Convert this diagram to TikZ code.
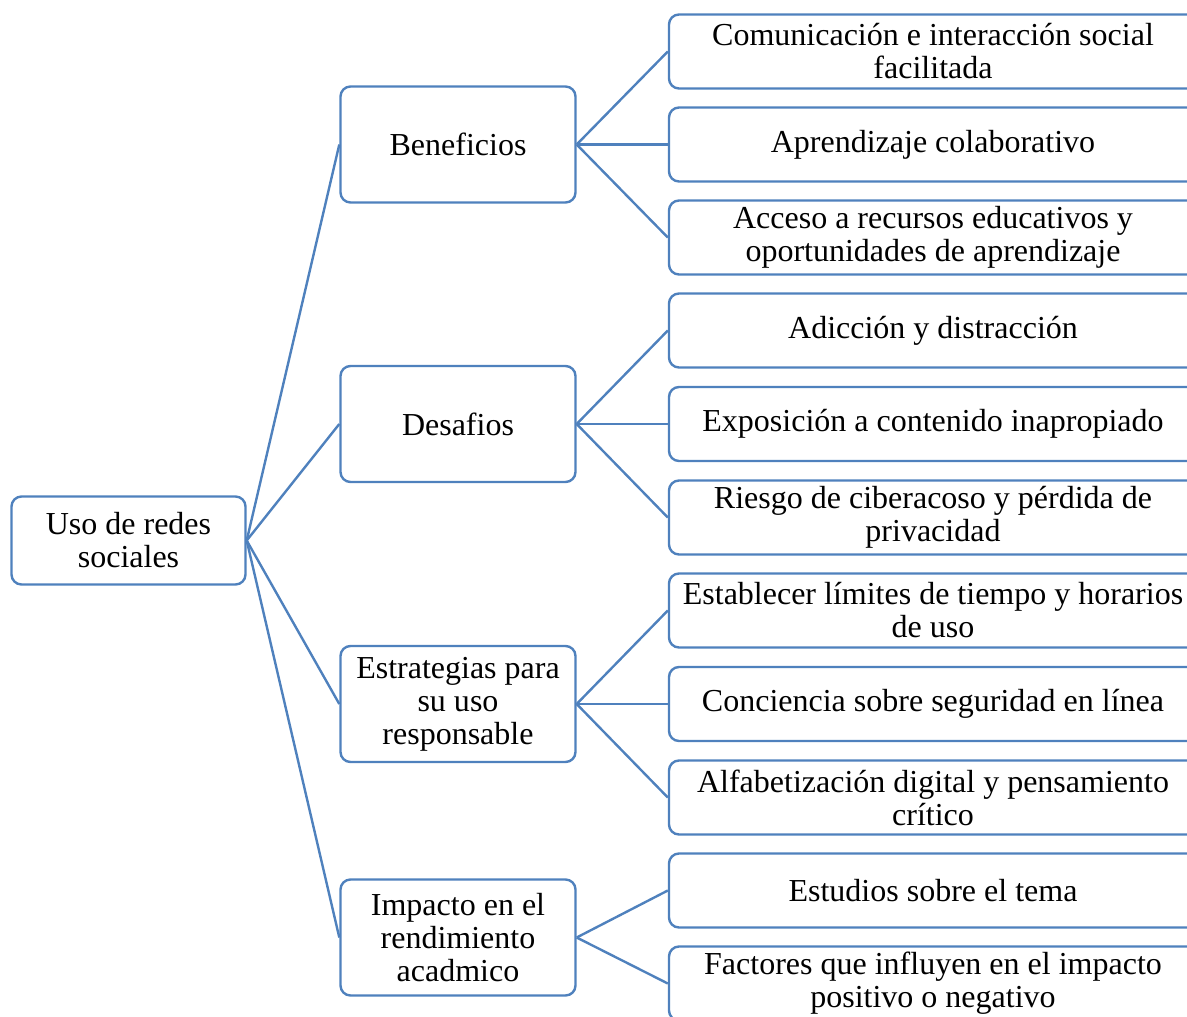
\documentclass[tikz,border=0pt]{standalone}
\usepackage{fontspec}
\setmainfont{Liberation Serif}
\definecolor{lineblue}{RGB}{79,129,189}
\begin{document}
\begin{tikzpicture}[x=0.5pt,y=-0.5pt]
	\tikzstyle{every node}=[font=\fontsize{16}{16.5}\selectfont, align=center]
	\tikzstyle{box}=[draw=lineblue, line width=1.2pt, rounded corners=5pt, fill=white, inner sep=2pt]
	\tikzstyle{topic}=[box, minimum width=117.5pt, minimum height=58pt]
	\tikzstyle{item}=[box, minimum width=264pt, minimum height=37pt]
	\tikzstyle{link}=[draw=lineblue, line width=1.2pt]
	
	\clip (0,0) rectangle (1187,1016);
	
	\node[box, minimum width=117pt, minimum height=44pt] (uso) at (128.5,540.5) {Uso de redes\\sociales};
	
	\node[topic] (ben) at (458,144.5) {Beneficios};
	\node[topic] (des) at (458,424) {Desafios};
	\node[topic] (est) at (458,704) {Estrategias para\\su uso\\responsable};
	\node[topic] (imp) at (458,937.5) {Impacto en el\\rendimiento\\acadmico};
	
	\node[item] (ben1) at (933,51.5) {Comunicación e interacción social\\facilitada};
	\node[item] (ben2) at (933,144.5) {Aprendizaje colaborativo};
	\node[item] (ben3) at (933,237.5) {Acceso a recursos educativos y\\oportunidades de aprendizaje};
	
	\node[item] (des1) at (933,330.5) {Adicción y distracción};
	\node[item] (des2) at (933,424) {Exposición a contenido inapropiado};
	\node[item] (des3) at (933,517.5) {Riesgo de ciberacoso y pérdida de\\privacidad};
	
	\node[item] (est1) at (933,610.5) {Establecer límites de tiempo y horarios\\de uso};
	\node[item] (est2) at (933,704) {Conciencia sobre seguridad en línea};
	\node[item] (est3) at (933,797.5) {Alfabetización digital y pensamiento\\crítico};
	
	\node[item] (imp1) at (933,890.5) {Estudios sobre el tema};
	\node[item] (imp2) at (933,983.5) {Factores que influyen en el impacto\\positivo o negativo};
	
	% root to topics
	\draw[link] (uso.east) -- (ben.west);
	\draw[link] (uso.east) -- (des.west);
	\draw[link] (uso.east) -- (est.west);
	\draw[link] (uso.east) -- (imp.west);
	
	% topics to items
	\draw[link] (ben.east) -- (ben1.west);
	\draw[link] (ben.east) -- (ben2.west);
	\draw[link] (ben.east) -- (ben3.west);
	\draw[link] (des.east) -- (des1.west);
	\draw[link] (des.east) -- (des2.west);
	\draw[link] (des.east) -- (des3.west);
	\draw[link] (est.east) -- (est1.west);
	\draw[link] (est.east) -- (est2.west);
	\draw[link] (est.east) -- (est3.west);
	\draw[link] (imp.east) -- (imp1.west);
	\draw[link] (imp.east) -- (imp2.west);
	
\end{tikzpicture}
\end{document}
